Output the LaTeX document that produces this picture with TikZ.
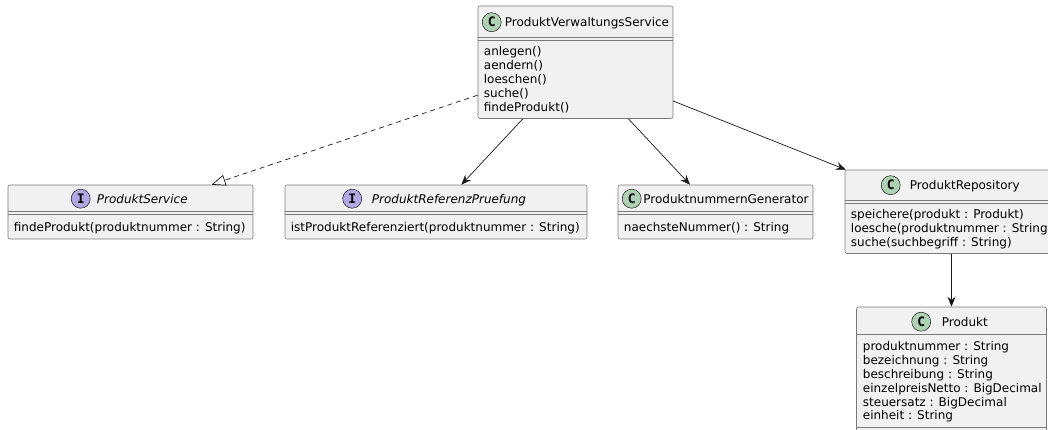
\documentclass[tikz,border=0pt]{standalone}
\usepackage{fontspec}
\setmainfont{DejaVu Sans}[ItalicFont={DejaVu Sans Oblique}, BoldFont={DejaVu Sans Bold}]
\newfontfamily\spotfont{DejaVu Sans Mono Bold}
\usetikzlibrary{arrows.meta,positioning}
\definecolor{uml-fill}{HTML}{F1F1F1}
\definecolor{uml-line}{HTML}{181818}
\definecolor{uml-border}{HTML}{7A7A7A}
\definecolor{spot-class}{HTML}{ADD1B2}
\definecolor{spot-iface}{HTML}{B4A7E5}
\tikzset{
    class-box/.style = {draw=uml-border, fill=uml-fill, line width=0.6pt, rectangle, rounded corners=2pt, inner sep=0pt},
    class-title/.style = {font=\fontsize{12}{14}\selectfont, inner sep=0pt, anchor=base west},
    iface-title/.style = {class-title, font=\fontsize{12}{14}\selectfont\itshape},
    members/.style = {font=\fontsize{12}{13.9}\selectfont, align=left, inner sep=0pt, anchor=base west},
    spot/.style = {circle, draw=uml-line, line width=0.5pt, minimum size=19pt, inner sep=0pt, font=\spotfont\fontsize{13}{13}\selectfont},
    sep-line/.style = {draw=uml-border, line width=0.6pt},
    dep/.style = {draw=uml-line, line width=0.7pt, -{Stealth[length=10pt, width=8pt, inset=3.5pt]}},
    impl/.style = {draw=uml-line, line width=0.7pt, dash pattern=on 5pt off 4pt, -{Triangle[open, fill=white, length=14pt, width=11pt]}},
}

\begin{document}
\begin{tikzpicture}[x=1pt, y=-1pt]
\useasboundingbox (0,0) rectangle (1048,430);
\clip (0,0) rectangle (1048,430);

% ProduktVerwaltungsService
\node[class-box, minimum width=195pt, minimum height=112.5pt] (pvs) at (575.5,62.25) {};
\node[spot, fill=spot-class] (pvs-spot) at ([xshift=14pt, yshift=-16.5pt]pvs.north west) {C};
\node[class-title] (pvs-name) at ([xshift=27pt, yshift=-20.5pt]pvs.north west) {ProduktVerwaltungsService};
\draw[sep-line] ([yshift=-32pt]pvs.north west) -- ([yshift=-32pt]pvs.north east);
\draw[sep-line] ([yshift=-35pt]pvs.north west) -- ([yshift=-35pt]pvs.north east);
% base anchor sits on the last line
\node[members] (pvs-ops) at ([xshift=6pt, yshift=-105.6pt]pvs.north west)
    {anlegen()\\aendern()\\loeschen()\\suche()\\findeProdukt()};

% ProduktService
\node[class-box, minimum width=245pt, minimum height=54pt] (service) at (130.5,212) {};
\node[spot, fill=spot-iface] (service-spot) at ([xshift=73pt, yshift=-14pt]service.north west) {I};
\node[iface-title] (service-name) at ([xshift=89pt, yshift=-18.4pt]service.north west) {ProduktService};
\draw[sep-line] ([yshift=-27pt]service.north west) -- ([yshift=-27pt]service.north east);
\draw[sep-line] ([yshift=-30pt]service.north west) -- ([yshift=-30pt]service.north east);
\node[members] (service-ops) at ([xshift=6pt, yshift=-46.5pt]service.north west)
    {findeProdukt(produktnummer : String)};

% ProduktReferenzPruefung
\node[class-box, minimum width=302pt, minimum height=54pt] (check) at (436,212) {};
\node[spot, fill=spot-iface] (check-spot) at ([xshift=67.5pt, yshift=-14pt]check.north west) {I};
\node[iface-title] (check-name) at ([xshift=87pt, yshift=-18.4pt]check.north west) {ProduktReferenzPruefung};
\draw[sep-line] ([yshift=-27pt]check.north west) -- ([yshift=-27pt]check.north east);
\draw[sep-line] ([yshift=-30pt]check.north west) -- ([yshift=-30pt]check.north east);
\node[members] (check-ops) at ([xshift=6pt, yshift=-46.5pt]check.north west)
    {istProduktReferenziert(produktnummer : String)};

% ProduktnummernGenerator
\node[class-box, minimum width=195pt, minimum height=54pt] (generator) at (715.5,212) {};
\node[spot, fill=spot-class] (generator-spot) at ([xshift=14pt, yshift=-14pt]generator.north west) {C};
\node[class-title] (generator-name) at ([xshift=25.5pt, yshift=-18.4pt]generator.north west) {ProduktnummernGenerator};
\draw[sep-line] ([yshift=-27pt]generator.north west) -- ([yshift=-27pt]generator.north east);
\draw[sep-line] ([yshift=-30pt]generator.north west) -- ([yshift=-30pt]generator.north east);
\node[members] (generator-ops) at ([xshift=6pt, yshift=-46.5pt]generator.north west)
    {naechsteNummer() : String};

% ProduktRepository
\node[class-box, minimum width=213pt, minimum height=83.5pt] (repo) at (951.5,211.75) {};
\node[spot, fill=spot-class] (repo-spot) at ([xshift=46pt, yshift=-15.5pt]repo.north west) {C};
\node[class-title] (repo-name) at ([xshift=65pt, yshift=-19.9pt]repo.north west) {ProduktRepository};
\draw[sep-line] ([yshift=-31pt]repo.north west) -- ([yshift=-31pt]repo.north east);
\draw[sep-line] ([yshift=-34pt]repo.north west) -- ([yshift=-34pt]repo.north east);
\node[members] (repo-ops) at ([xshift=6pt, yshift=-76.8pt]repo.north west)
    {speichere(produkt : Produkt)\\loesche(produktnummer : String)\\suche(suchbegriff : String)};

% Produkt
\node[class-box, minimum width=190pt, minimum height=128pt] (produkt) at (951.5,371) {};
\node[spot, fill=spot-class] (produkt-spot) at ([xshift=65pt, yshift=-15pt]produkt.north west) {C};
\node[class-title] (produkt-name) at ([xshift=85.5pt, yshift=-19.4pt]produkt.north west) {Produkt};
\draw[sep-line] ([yshift=-28pt]produkt.north west) -- ([yshift=-28pt]produkt.north east);
\node[members] (produkt-attrs) at ([xshift=6.5pt, yshift=-113.2pt]produkt.north west)
    {produktnummer : String\\bezeichnung : String\\beschreibung : String\\einzelpreisNetto : BigDecimal\\steuersatz : BigDecimal\\einheit : String};
\draw[sep-line] ([yshift=-120.3pt]produkt.north west) -- ([yshift=-120.3pt]produkt.north east);

% connectors
\draw[impl] (pvs) -- (service);
\draw[dep] (pvs) -- (check);
\draw[dep] (pvs) -- (generator);
\draw[dep] (pvs) -- (repo);
\draw[dep] (repo) -- (produkt);
\end{tikzpicture}
\end{document}
